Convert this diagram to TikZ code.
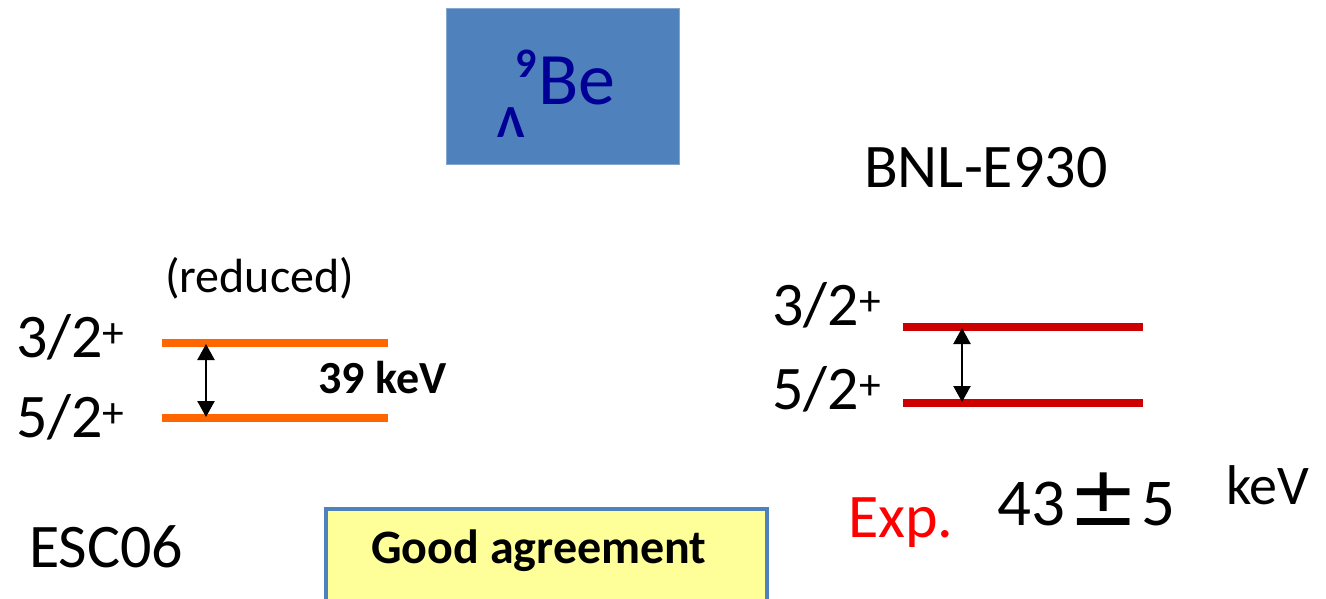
\documentclass[tikz,border=0pt]{standalone}
\usepackage{fontspec}
\setmainfont[Numbers=Lining]{Carlito}
\newfontfamily\symfont{DejaVu Sans}
\usetikzlibrary{arrows.meta}
\definecolor{TitleBlue}{RGB}{79,129,189}
\definecolor{NucBlue}{RGB}{0,0,150}
\definecolor{LevOrange}{RGB}{255,102,0}
\definecolor{LevRed}{RGB}{204,0,0}
\definecolor{NoteYellow}{RGB}{255,255,153}
\newcommand{\fs}[1]{\fontsize{#1}{#1}\selectfont}
\tikzset{
  lbl/.style={inner sep=0pt, anchor=base west},
  lvline/.style={line width=8pt},
  lvarrow/.style={line width=2.3pt, >={Triangle[length=16pt,width=17pt]}, <->}
}

\begin{document}
\begin{tikzpicture}[x=1pt, y=-1pt]
  \useasboundingbox (0,0) rectangle (1326,599);
  \clip (0,0) rectangle (1326,599);

  % title box
  \node[fill=TitleBlue, draw=TitleBlue!70, minimum width=233pt, minimum height=156pt,
        inner sep=0pt] (title) at (562.5,86) {};
  \node[lbl, text=NucBlue, font=\fs{46}\bfseries] (lam) at (497,138) {Λ};
  \node[lbl, text=NucBlue, font=\fs{42}\bfseries] (nine) at (515,78) {9};
  \node[lbl, text=NucBlue, font=\fs{74}] (be) at (538,105) {Be};

  % ESC06 side
  \node[lbl, font=\fs{48}] (red) at (165,292) {(reduced)};
  \node[lbl, font=\fs{62}] (lj3) at (16,357) {3/2\textsuperscript{+}};
  \node[lbl, font=\fs{62}] (lj5) at (16,437) {5/2\textsuperscript{+}};
  \coordinate (o3a) at (162,343); \coordinate (o3b) at (388,343);
  \coordinate (o5a) at (162,418); \coordinate (o5b) at (388,418);
  \draw[lvline, LevOrange] (o3a) -- (o3b);
  \draw[lvline, LevOrange] (o5a) -- (o5b);
  \coordinate (oa1) at (206,344); \coordinate (oa2) at (206,417);
  \draw[lvarrow] (oa1) -- (oa2);
  \node[lbl, font=\fs{46}\bfseries] (gap) at (318,393) {39 keV};
  \node[lbl, font=\fs{62}] (esc) at (29,567) {ESC06};

  % experiment side
  \node[lbl, font=\fs{62}] (bnl) at (864,188) {BNL-E930};
  \node[lbl, font=\fs{62}] (rj3) at (772,325) {3/2\textsuperscript{+}};
  \node[lbl, font=\fs{62}] (rj5) at (772,409) {5/2\textsuperscript{+}};
  \coordinate (r3a) at (903,327); \coordinate (r3b) at (1143,327);
  \coordinate (r5a) at (903,403); \coordinate (r5b) at (1143,403);
  \draw[lvline, LevRed] (r3a) -- (r3b);
  \draw[lvline, LevRed] (r5a) -- (r5b);
  \coordinate (ra1) at (962,328); \coordinate (ra2) at (962,402);
  \draw[lvarrow] (ra1) -- (ra2);
  \node[lbl, font=\fs{62}, text=red] (exp) at (848,537) {Exp.};
  \node[lbl, font=\fs{67}] (val) at (997,525)
    {43\hspace{3pt}{\symfont\fs{84}±}\hspace{3pt}5};
  \node[lbl, font=\fs{56}] (kev) at (1226,504) {keV};

  % note box
  \node[draw=TitleBlue, line width=4pt, fill=NoteYellow, minimum width=441pt,
        minimum height=104pt, inner sep=0pt] (note) at (546.5,561) {};
  \node[lbl, font=\fs{48}\bfseries] (agree) at (371,563) {Good agreement};
\end{tikzpicture}
\end{document}
